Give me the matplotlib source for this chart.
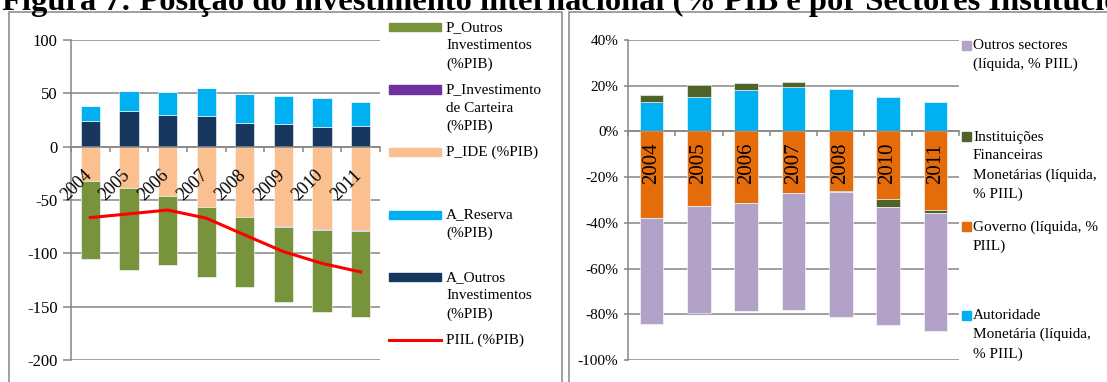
import numpy as np
import matplotlib
matplotlib.use("Agg")
import matplotlib.pyplot as plt
from matplotlib.patches import Rectangle
from matplotlib.lines import Line2D
from matplotlib.ticker import FuncFormatter

plt.rcParams['font.family'] = ['Liberation Serif', 'DejaVu Serif']
plt.rcParams['axes.unicode_minus'] = False

# ---------------- data: left chart (% PIB) ----------------
years_left = ['2004', '2005', '2006', '2007', '2008', '2009', '2010', '2011']
a_outros = [24.4, 33.5, 29.4, 28.5, 22.2, 21.0, 18.8, 19.7]
a_reserva = [14.0, 18.7, 22.2, 26.5, 27.2, 26.5, 26.6, 22.2]
p_ide = [-32.2, -39.0, -46.2, -56.5, -66.2, -74.0, -77.0, -78.3]
p_carteira = [0.0, 0.0, 0.0, 0.0, 0.0, -0.9, -0.9, -0.8]
p_outros = [-72.8, -76.6, -64.7, -65.4, -65.7, -71.0, -77.4, -80.3]
piil = [-66.5, -63.0, -59.4, -67.0, -82.8, -98.4, -109.4, -117.5]
left_ticks = [100, 50, 0, -50, -100, -150, -200]

left_series = [
    ('A_Outros\nInvestimentos\n(%PIB)', a_outros, '#17375E'),
    ('A_Reserva\n(%PIB)', a_reserva, '#00B0F0'),
    ('P_IDE (%PIB)', p_ide, '#FAC090'),
    ('P_Investimento\nde Carteira\n(%PIB)', p_carteira, '#7030A0'),
    ('P_Outros\nInvestimentos\n(%PIB)', p_outros, '#77933C'),
]
piil_label = 'PIIL (%PIB)'

# ---------------- data: right chart (% PIIL) ----------------
years_right = ['2004', '2005', '2006', '2007', '2008', '2010', '2011']
autoridade = [12.7, 15.0, 18.1, 19.6, 18.7, 15.2, 12.7]
governo = [-38.0, -32.6, -31.5, -26.8, -25.9, -29.6, -34.5]
ifm = [3.1, 5.3, 3.2, 2.1, -0.6, -3.6, -1.1]
outros_sect = [-46.1, -47.0, -47.1, -51.3, -54.7, -51.5, -51.6]
right_ticks = [40, 20, 0, -20, -40, -60, -80, -100]

right_series = [
    ('Autoridade\nMonetária (líquida,\n% PIIL)', autoridade, '#00B0F0'),
    ('Governo (líquida, %\nPIIL)', governo, '#E46C0A'),
    ('Instituições\nFinanceiras\nMonetárias (líquida,\n% PIIL)', ifm, '#4F6228'),
    ('Outros sectores\n(líquida, % PIIL)', outros_sect, '#B3A2C7'),
]

title = 'Figura 7: Posição do investimento internacional (% PIB e por Sectores Institucionais)'

GRAY = '#868686'
W, H = 1107, 382
fig = plt.figure(figsize=(W / 100, H / 100), dpi=100)


def px(x, y):
    return x / W, 1 - y / H


def stacked(ax, series, x, width=0.5):
    pos = np.zeros(len(x))
    neg = np.zeros(len(x))
    for label, vals, color in series:
        v = np.asarray(vals, dtype=float)
        bottom = np.where(v >= 0, pos, neg)
        ax.bar(x, v, width=width, bottom=bottom, color=color,
               edgecolor='white', linewidth=0.4, zorder=1)
        pos = pos + np.where(v >= 0, v, 0)
        neg = neg + np.where(v < 0, v, 0)


def style_axes(ax, n, ticks, fs, ylen):
    ax.set_xlim(-0.5, n - 0.5)
    ax.set_ylim(min(ticks), max(ticks))
    ax.set_yticks(ticks)
    for s in ['top', 'right']:
        ax.spines[s].set_visible(False)
    ax.spines['left'].set_color(GRAY)
    ax.spines['left'].set_linewidth(1.1)
    ax.spines['bottom'].set_position(('data', 0))
    ax.spines['bottom'].set_color(GRAY)
    ax.spines['bottom'].set_linewidth(1.1)
    ax.spines['bottom'].set_zorder(2.5)
    ax.set_xticks(np.arange(-0.5, n, 1.0))
    ax.set_xticklabels([])
    ax.tick_params(axis='x', direction='out', length=3.5, width=1.1, color=GRAY)
    ax.tick_params(axis='y', direction='out', length=ylen, width=1.1, color=GRAY,
                   labelsize=fs, pad=4)
    ax.yaxis.grid(True, color=GRAY, linewidth=1.1)
    ax.set_axisbelow(True)
    ax.patch.set_alpha(0)


# ---------------- left chart ----------------
axL = fig.add_axes([71 / W, 1 - 360 / H, 309 / W, 320 / H])
xL = np.arange(len(years_left))
stacked(axL, left_series, xL)
axL.plot(xL, piil, color='#FF0000', linewidth=2.2, zorder=3)
style_axes(axL, len(years_left), left_ticks, 12, 5.5)
axL.yaxis.set_major_formatter(FuncFormatter(lambda v, p: f'{int(v)}'))
for i, yr in enumerate(years_left):
    axL.annotate(yr, xy=(xL[i], 0), xytext=(-10, -28), textcoords='offset points',
                 rotation=45, ha='center', va='center', rotation_mode='anchor',
                 fontsize=13, zorder=4)

# ---------------- right chart ----------------
axR = fig.add_axes([628 / W, 1 - 360 / H, 331 / W, 320 / H])
xR = np.arange(len(years_right))
stacked(axR, right_series, xR)
style_axes(axR, len(years_right), right_ticks, 11, 3)
axR.yaxis.set_major_formatter(FuncFormatter(lambda v, p: f'{int(v)}%'))
for i, yr in enumerate(years_right):
    axR.annotate(yr, xy=(xR[i], 0), xytext=(0, -23), textcoords='offset points',
                 rotation=90, ha='center', va='center', rotation_mode='anchor',
                 fontsize=15, zorder=4)

# ---------------- left legend (manual, Excel-like layout) ----------------
leg_left = [(lab, col, 'patch') for lab, _, col in reversed(left_series)]
leg_left.append((piil_label, '#FF0000', 'line'))
y0, dy = 27, 62.5
for k, (lab, col, kind) in enumerate(leg_left):
    yc = y0 + k * dy
    if kind == 'patch':
        fig.patches.append(Rectangle(px(389, yc + 4), 52 / W, 8 / H,
                                     transform=fig.transFigure, color=col))
    else:
        fig.lines.append(Line2D([389 / W, 441 / W], [1 - yc / H] * 2,
                                transform=fig.transFigure, color=col, linewidth=2.2))
    fig.text(446 / W, 1 - (yc - 6) / H, lab, fontsize=11, va='top', ha='left',
             linespacing=1.5)

# ---------------- right legend ----------------
leg_right = [(lab, col) for lab, _, col in reversed(right_series)]
ys_right = [45, 136.5, 226.5, 315]
for (lab, col), yc in zip(leg_right, ys_right):
    fig.patches.append(Rectangle(px(962, yc + 4.5), 9 / W, 9 / H,
                                 transform=fig.transFigure, color=col))
    fig.text(973 / W, 1 - (yc - 6) / H, lab, fontsize=11, va='top', ha='left',
             linespacing=1.57)

# ---------------- panel frames ----------------
fig.patches.append(Rectangle(px(9, 400), (562 - 9) / W, (400 - 12) / H,
                             transform=fig.transFigure, fill=False,
                             edgecolor=GRAY, linewidth=1.1))
fig.patches.append(Rectangle(px(569, 400), (1120 - 569) / W, (400 - 12) / H,
                             transform=fig.transFigure, fill=False,
                             edgecolor=GRAY, linewidth=1.1))

# ---------------- title ----------------
fig.text(2 / W, 1 - 10 / H, title, fontsize=23.4, fontweight='bold',
         ha='left', va='baseline')

fig.savefig('out.png', dpi=100)
